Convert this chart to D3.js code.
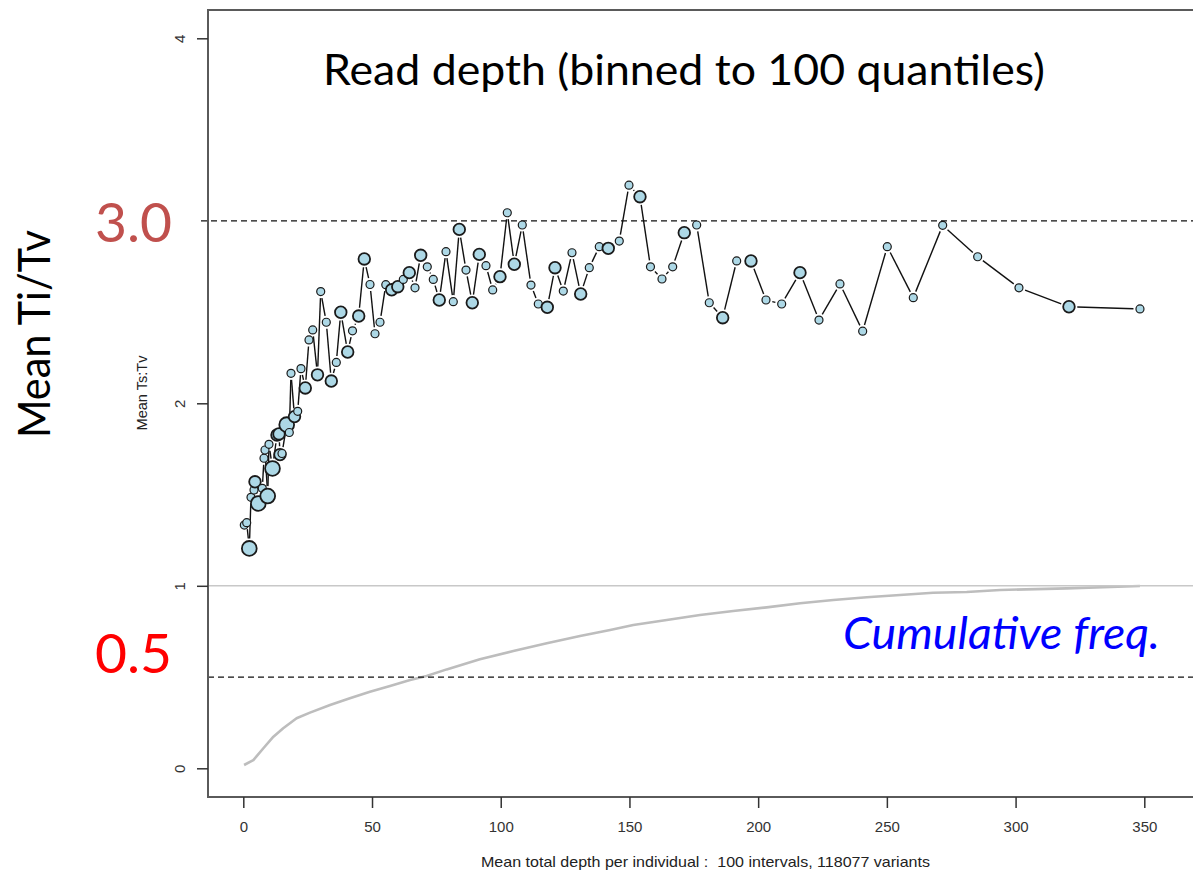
<!DOCTYPE html>
<html>
<head>
<meta charset="utf-8">
<script src="https://cdn.jsdelivr.net/npm/d3@7"></script>
<style>
  html, body { margin: 0; padding: 0; background: #fff; }
  svg { display: block; }
</style>
</head>
<body>
<svg id="chart" width="1193" height="882"></svg>
<script>
// Mean total depth per individual for each quantile bin
const depthX = [
  0.39, 1.32, 2.33, 2.99, 4.16, 4.54, 5.83, 7.38, 8.04, 8.43,
  9.48, 9.98, 11.34, 13.09, 13.87, 14.26, 15.03, 16.86, 17.87, 18.53,
  19.89, 21.13, 22.41, 24.08, 25.52, 26.96, 28.82, 30.07, 32.24, 34.18,
  36.13, 37.87, 40.55, 42.42, 44.83, 47.00, 49.22, 51.16, 53.10, 55.35,
  57.64, 60.01, 62.15, 64.48, 66.70, 68.91, 71.47, 73.80, 76.13, 78.74,
  81.57, 83.90, 86.51, 88.95, 91.67, 94.27, 96.88, 99.71, 102.55, 105.27,
  108.37, 111.75, 114.59, 118.09, 121.08, 124.30, 127.68, 131.06, 134.40, 138.28,
  141.78, 146.05, 149.82, 154.09, 158.17, 162.64, 166.80, 171.30, 176.12, 181.01,
  186.22, 191.66, 197.21, 203.04, 209.14, 216.25, 223.63, 231.78, 240.60, 250.16,
  260.26, 271.68, 285.27, 301.31, 320.74, 348.32
];

// Mean Ts:Tv ratio within each bin
const meanTsTv = [
  1.333, 1.346, 1.205, 1.485, 1.525, 1.570, 1.451, 1.534, 1.699, 1.744,
  1.492, 1.775, 1.643, 1.826, 1.832, 1.719, 1.725, 1.883, 1.840, 2.164,
  1.927, 1.956, 2.190, 2.084, 2.347, 2.402, 2.156, 2.612, 2.444, 2.122,
  2.224, 2.499, 2.281, 2.397, 2.478, 2.791, 2.651, 2.381, 2.444, 2.650,
  2.622, 2.639, 2.679, 2.716, 2.633, 2.811, 2.748, 2.679, 2.566, 2.831,
  2.557, 2.953, 2.730, 2.551, 2.816, 2.754, 2.621, 2.694, 3.044, 2.762,
  2.977, 2.648, 2.544, 2.526, 2.743, 2.615, 2.825, 2.599, 2.743, 2.858,
  2.849, 2.889, 3.195, 3.132, 2.748, 2.681, 2.748, 2.935, 2.977, 2.551,
  2.469, 2.780, 2.780, 2.566, 2.544, 2.716, 2.456, 2.654, 2.395, 2.858,
  2.579, 2.975, 2.803, 2.633, 2.529, 2.517
];

// Relative symbol weight of each bin (1 = small, 2 = medium, 3 = large)
const pointWeight = [
  1, 1, 3, 1, 1, 2, 3, 1, 1, 1,
  3, 1, 3, 2, 2, 2, 1, 3, 1, 1,
  2, 1, 1, 2, 1, 1, 2, 1, 1, 2,
  1, 2, 2, 1, 2, 2, 1, 1, 1, 1,
  2, 2, 1, 2, 1, 2, 1, 1, 2, 1,
  1, 2, 1, 2, 2, 1, 1, 2, 1, 2,
  1, 1, 1, 2, 2, 1, 1, 2, 1, 1,
  2, 1, 1, 2, 1, 1, 1, 2, 1, 1,
  2, 1, 2, 1, 1, 2, 1, 1, 1, 1,
  1, 1, 1, 1, 2, 1
];

// Cumulative frequency of variants by depth
const cumDepth = [
  0.3, 3.9, 7.8, 11.7, 15.5, 20.7, 25.9, 33.7, 41.4, 49.2,
  57.0, 64.8, 71.2, 79.0, 91.9, 104.9, 117.9, 130.8, 142.5, 151.5,
  164.5, 177.4, 190.3, 203.3, 216.3, 229.2, 242.2, 255.1, 268.0, 281.0,
  294.0, 319.9, 348.3
];
const cumFreq = [
  0.018, 0.045, 0.110, 0.173, 0.219, 0.274, 0.305, 0.347, 0.384, 0.420,
  0.451, 0.484, 0.506, 0.542, 0.597, 0.643, 0.685, 0.725, 0.758, 0.785,
  0.813, 0.840, 0.862, 0.882, 0.904, 0.922, 0.937, 0.950, 0.962, 0.966,
  0.977, 0.986, 0.999
];

const xTicks = [0, 50, 100, 150, 200, 250, 300, 350];
const yTicks = [0, 1, 2, 4];
const refLevels = [3.0, 0.5];

const titleText = "Read depth (binned to 100 quantiles)";
const xTitle = "Mean total depth per individual :  100 intervals, 118077 variants";
const yTitleSmall = "Mean Ts:Tv";
const yTitleBig = "Mean Ti/Tv";
const cumLabel = "Cumulative freq.";

const W = 1193, H = 882;
const box = { left: 208, top: 10, right: 1200, bottom: 797 };

const svg = d3.select("#chart");
svg.append("rect").attr("width", W).attr("height", H).attr("fill", "#fff");

const x = d3.scaleLinear().domain([0, 350]).range([243.3, 1144.3]);
const y = d3.scaleLinear().domain([0, 4]).range([768.3, 38.3]);
const r = d3.scaleOrdinal().domain([1, 2, 3]).range([4, 5.8, 7.4]);

const rFont = "'Liberation Sans', Arial, Helvetica, sans-serif";
const oFont = "Lato, 'Open Sans', sans-serif";

// Cumulative frequency curve
const cumData = cumDepth.map((d, i) => [d, cumFreq[i]]);
svg.append("path")
  .datum(cumData)
  .attr("d", d3.line().x(d => x(d[0])).y(d => y(d[1])))
  .attr("fill", "none")
  .attr("stroke", "#bdbdbd")
  .attr("stroke-width", 2.6)
  .attr("stroke-linejoin", "round");

// Solid grey line at 1
svg.append("line")
  .attr("x1", box.left).attr("x2", W)
  .attr("y1", y(1)).attr("y2", y(1))
  .attr("stroke", "#c8c8c8").attr("stroke-width", 1.5);

// Dashed reference levels
refLevels.forEach((v, i) => {
  svg.append("line")
    .attr("x1", i === 0 ? 201 : box.left).attr("x2", W)
    .attr("y1", y(v)).attr("y2", y(v))
    .attr("stroke", "#111").attr("stroke-width", 1.3)
    .attr("stroke-dasharray", "6,4");
});

// Plot frame
svg.append("path")
  .attr("d", `M${box.right},${box.top}H${box.left}V${box.bottom}H${box.right}`)
  .attr("fill", "none").attr("stroke", "#5a5a5a").attr("stroke-width", 2);

// Axes
const xAxis = svg.append("g")
  .attr("transform", `translate(0,${box.bottom})`)
  .call(d3.axisBottom(x).tickValues(xTicks).tickFormat(d3.format("d"))
    .tickSize(11).tickPadding(13).tickSizeOuter(0));
xAxis.select(".domain").remove();
xAxis.selectAll(".tick line").attr("stroke", "#333").attr("stroke-width", 1.5);
xAxis.selectAll(".tick text")
  .attr("font-family", rFont).attr("font-size", 15).attr("fill", "#333");

const yAxis = svg.append("g")
  .attr("transform", `translate(${box.left},0)`)
  .call(d3.axisLeft(y).tickValues(yTicks).tickFormat(d3.format("d"))
    .tickSize(11).tickSizeOuter(0));
yAxis.select(".domain").remove();
yAxis.selectAll(".tick line").attr("stroke", "#333").attr("stroke-width", 1.5);
yAxis.selectAll(".tick text")
  .attr("font-family", rFont).attr("font-size", 15).attr("fill", "#333")
  .attr("x", null)
  .attr("text-anchor", "middle")
  .attr("transform", "translate(-28,0) rotate(-90)")
  .attr("dy", "0.35em");

// Axis titles
svg.append("text")
  .attr("x", 481).attr("y", 867)
  .attr("xml:space", "preserve")
  .style("white-space", "pre")
  .attr("font-family", rFont).attr("font-size", 15).attr("fill", "#222")
  .attr("textLength", 449).attr("lengthAdjust", "spacingAndGlyphs")
  .text(xTitle);

svg.append("text")
  .attr("transform", "translate(147,393) rotate(-90)")
  .attr("text-anchor", "middle")
  .attr("font-family", rFont).attr("font-size", 14).attr("fill", "#222")
  .attr("textLength", 75).attr("lengthAdjust", "spacingAndGlyphs")
  .text(yTitleSmall);

// Connecting segments, broken around each symbol
const pts = depthX.map((d, i) => ({ px: x(d), py: y(meanTsTv[i]), rr: r(pointWeight[i]) }));
const segs = [];
for (let i = 0; i < pts.length - 1; i++) {
  const a = pts[i], b = pts[i + 1];
  const dx = b.px - a.px, dy = b.py - a.py;
  const len = Math.hypot(dx, dy);
  const g1 = a.rr + 2.5, g2 = b.rr + 2.5;
  if (len > g1 + g2) {
    const ux = dx / len, uy = dy / len;
    segs.push({ x1: a.px + ux * g1, y1: a.py + uy * g1, x2: b.px - ux * g2, y2: b.py - uy * g2 });
  }
}
svg.append("g").selectAll("line").data(segs).join("line")
  .attr("x1", d => d.x1).attr("y1", d => d.y1)
  .attr("x2", d => d.x2).attr("y2", d => d.y2)
  .attr("stroke", "#111").attr("stroke-width", 1.4);

// Bin symbols
svg.append("g").selectAll("circle").data(pts).join("circle")
  .attr("cx", d => d.px).attr("cy", d => d.py).attr("r", d => d.rr)
  .attr("fill", "#add8e6")
  .attr("stroke", "#1a1a1a")
  .attr("stroke-width", d => d.rr > 5 ? 1.8 : 1.2);

// Overlay annotations
svg.append("text")
  .attr("x", 323).attr("y", 85)
  .attr("font-family", oFont).attr("font-size", 42).attr("fill", "#000")
  .attr("textLength", 722).attr("lengthAdjust", "spacingAndGlyphs")
  .text(titleText);

svg.append("text")
  .attr("transform", "translate(50,334) rotate(-90)")
  .attr("text-anchor", "middle")
  .attr("font-family", oFont).attr("font-size", 45).attr("fill", "#000")
  .attr("textLength", 208).attr("lengthAdjust", "spacingAndGlyphs")
  .text(yTitleBig);

svg.append("text")
  .attr("x", 95).attr("y", 242)
  .attr("font-family", oFont).attr("font-size", 54).attr("fill", "#c0504d")
  .attr("textLength", 77).attr("lengthAdjust", "spacingAndGlyphs")
  .text(d3.format(".1f")(refLevels[0]));

svg.append("text")
  .attr("x", 95).attr("y", 673)
  .attr("font-family", oFont).attr("font-size", 54).attr("fill", "#ff0000")
  .attr("textLength", 77).attr("lengthAdjust", "spacingAndGlyphs")
  .text(d3.format(".1f")(refLevels[1]));

svg.append("text")
  .attr("x", 843).attr("y", 649)
  .attr("font-family", oFont).attr("font-style", "italic").attr("font-size", 44)
  .attr("fill", "#0000ff")
  .attr("textLength", 317).attr("lengthAdjust", "spacingAndGlyphs")
  .text(cumLabel);
</script>
</body>
</html>
